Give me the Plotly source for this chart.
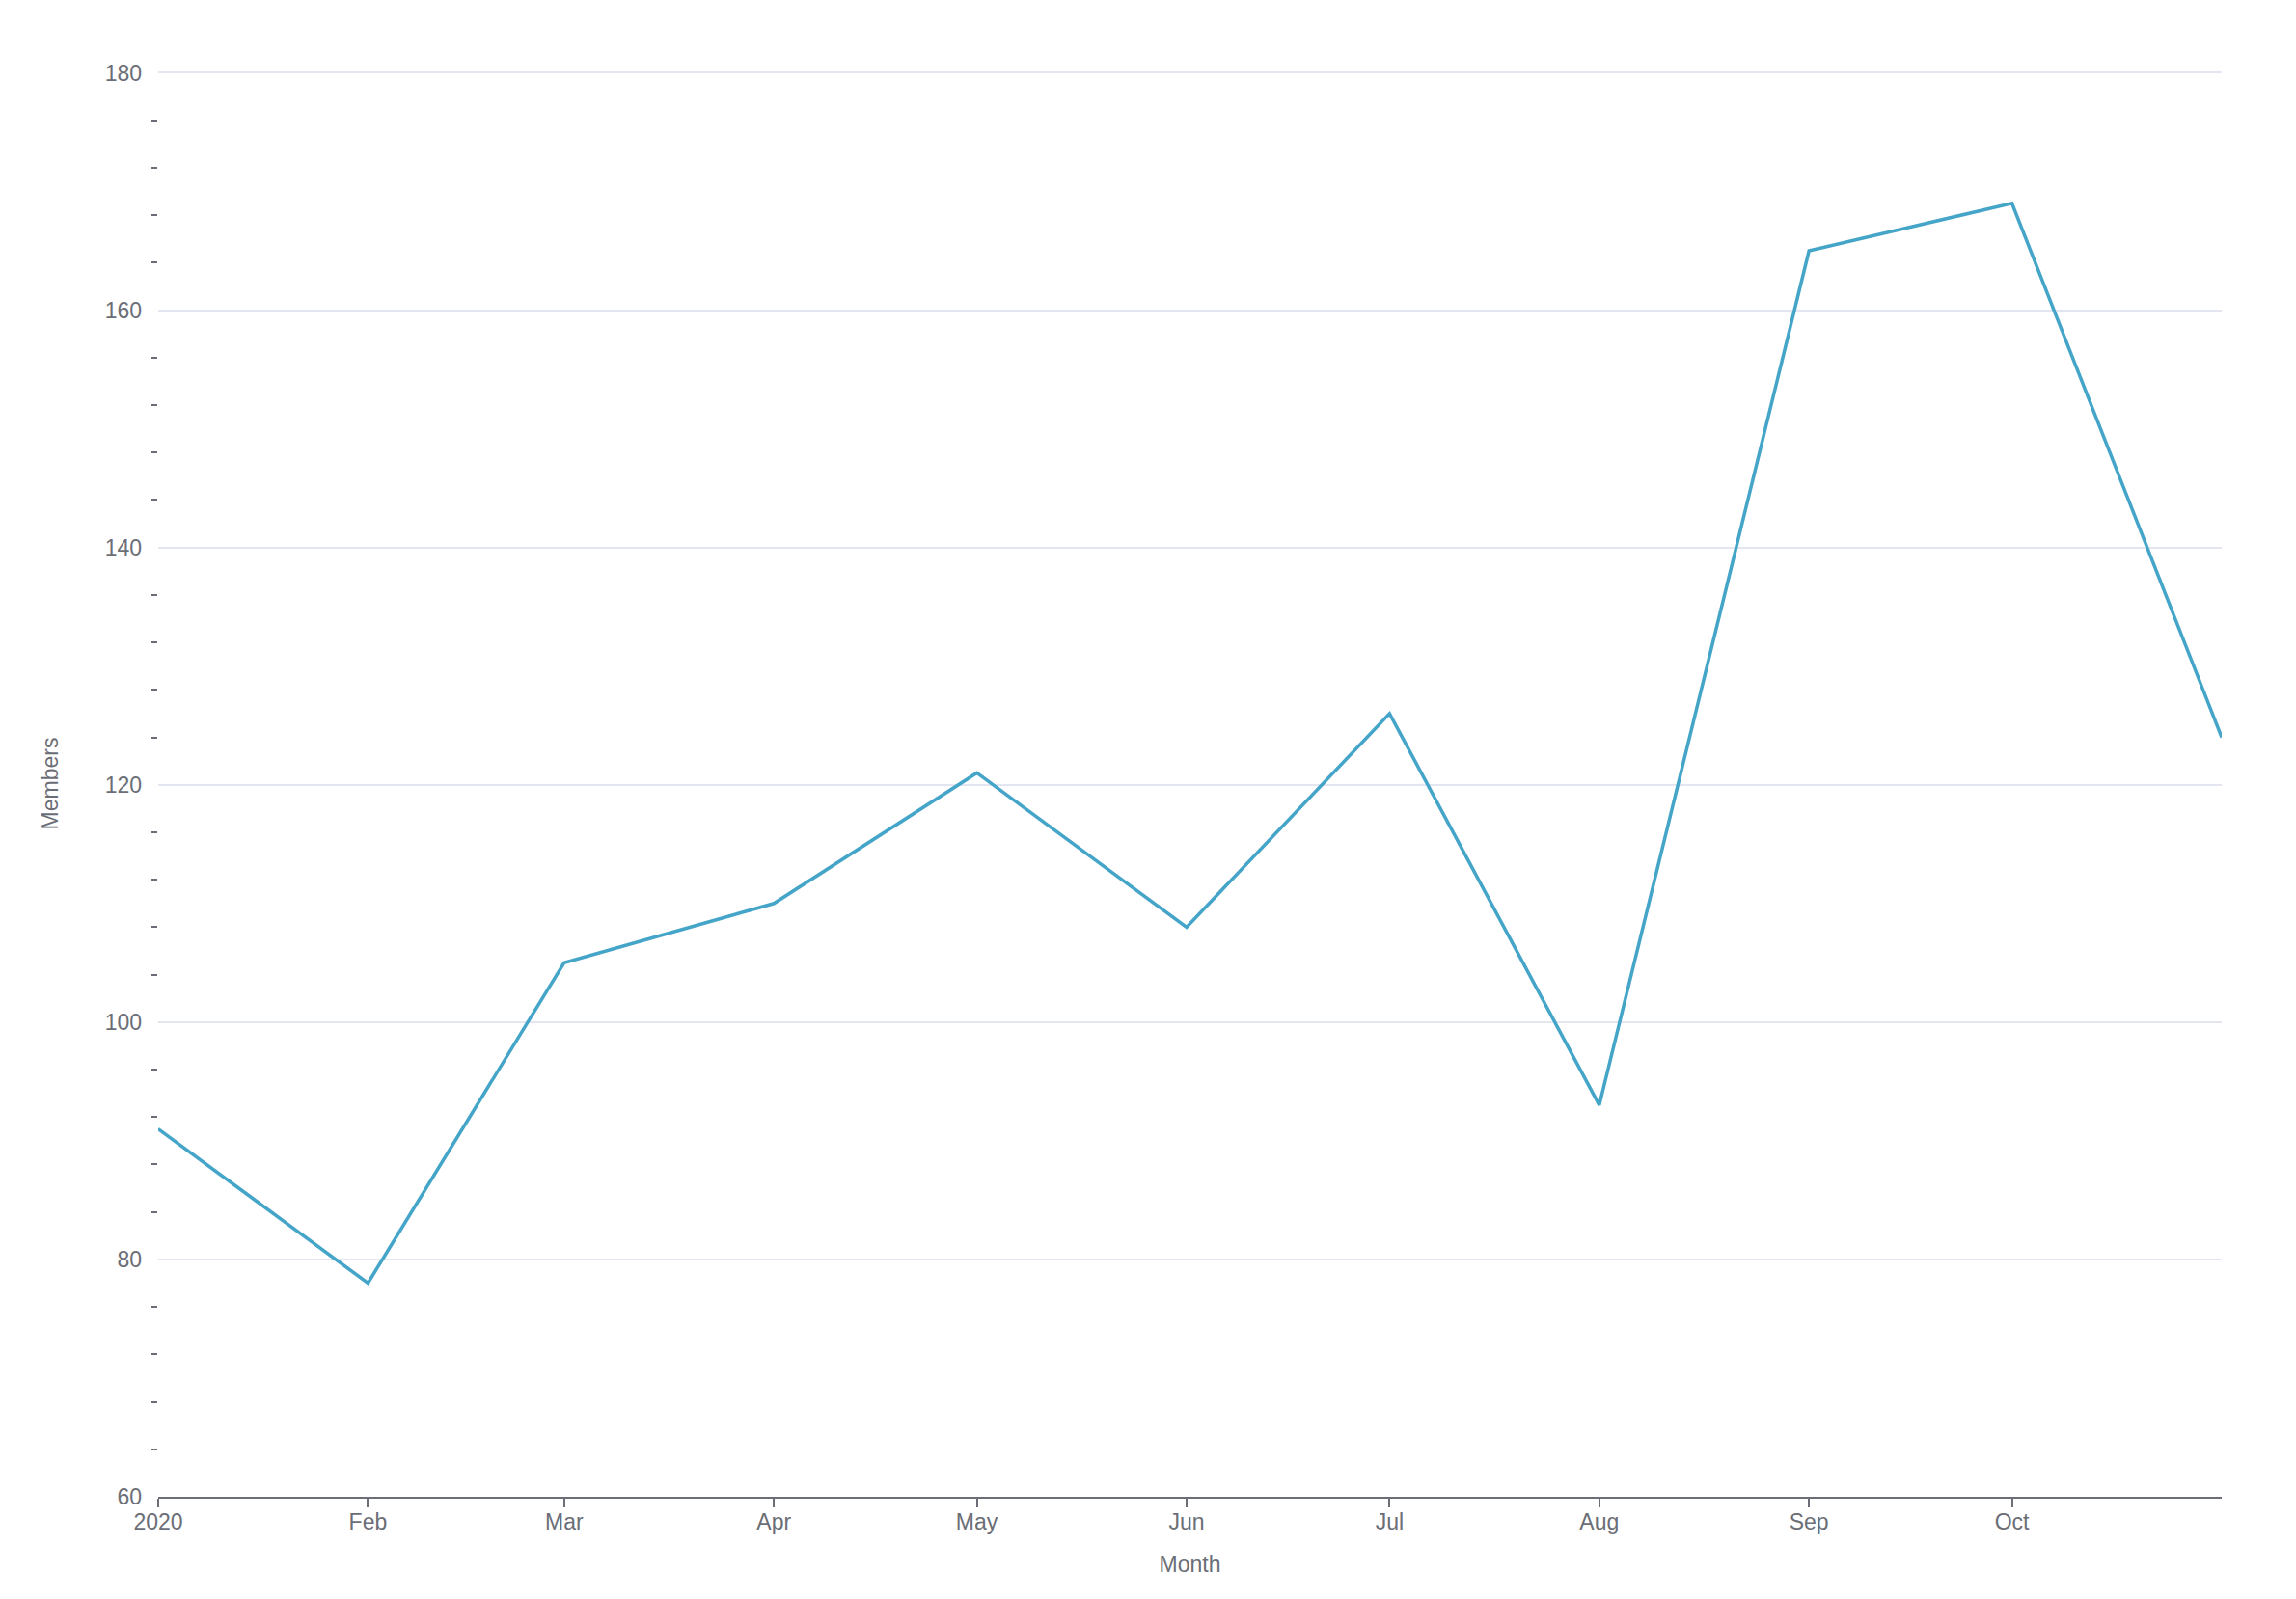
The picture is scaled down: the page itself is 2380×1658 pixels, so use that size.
import plotly.graph_objects as go

# Monthly member counts, 2020
months = ["2020-01-01", "2020-02-01", "2020-03-01", "2020-04-01", "2020-05-01", "2020-06-01",
          "2020-07-01", "2020-08-01", "2020-09-01", "2020-10-01", "2020-11-01"]
members = [91, 78, 105, 110, 121, 108, 126, 93, 165, 169, 124]

tick_vals = months[:10]
tick_text = ["2020", "Feb", "Mar", "Apr", "May", "Jun", "Jul", "Aug", "Sep", "Oct"]

grey = "#6b6e76"

fig = go.Figure()
fig.add_trace(go.Scatter(x=months, y=members, mode="lines", name="Members",
                         line=dict(color="#44a5c8", width=3.5)))

# page body adds an 8px offset, so the figure is a little smaller than the window
fig.update_layout(
    width=2364,
    height=1642,
    margin=dict(l=156, r=69, t=65, b=98),
    plot_bgcolor="white",
    paper_bgcolor="white",
    showlegend=False,
    font=dict(family="Liberation Sans, Arial, sans-serif", size=23, color=grey),
)

fig.update_xaxes(
    title=dict(text="Month", standoff=24, font=dict(size=23, color=grey)),
    range=[months[0], months[-1]],
    tickvals=tick_vals,
    ticktext=tick_text,
    tickfont=dict(size=23),
    showgrid=False,
    showline=True,
    linecolor=grey,
    linewidth=2,
    ticks="outside",
    ticklen=9,
    tickwidth=2,
    tickcolor=grey,
    ticklabelstandoff=-5,
)

# top of range nudged past 180 so its gridline is not clipped
fig.update_yaxes(
    title=dict(text="Members", standoff=41, font=dict(size=23, color=grey)),
    range=[60, 180.2],
    tick0=60,
    dtick=20,
    tickfont=dict(size=23),
    showgrid=True,
    gridcolor="#e3e6f0",
    gridwidth=1.5,
    showline=False,
    zeroline=False,
    ticks="",
    ticklabelstandoff=16,
    minor=dict(tick0=60, dtick=4, ticks="outside", ticklen=6, tickwidth=2, tickcolor=grey, showgrid=False),
)

fig.write_html("out.html")
